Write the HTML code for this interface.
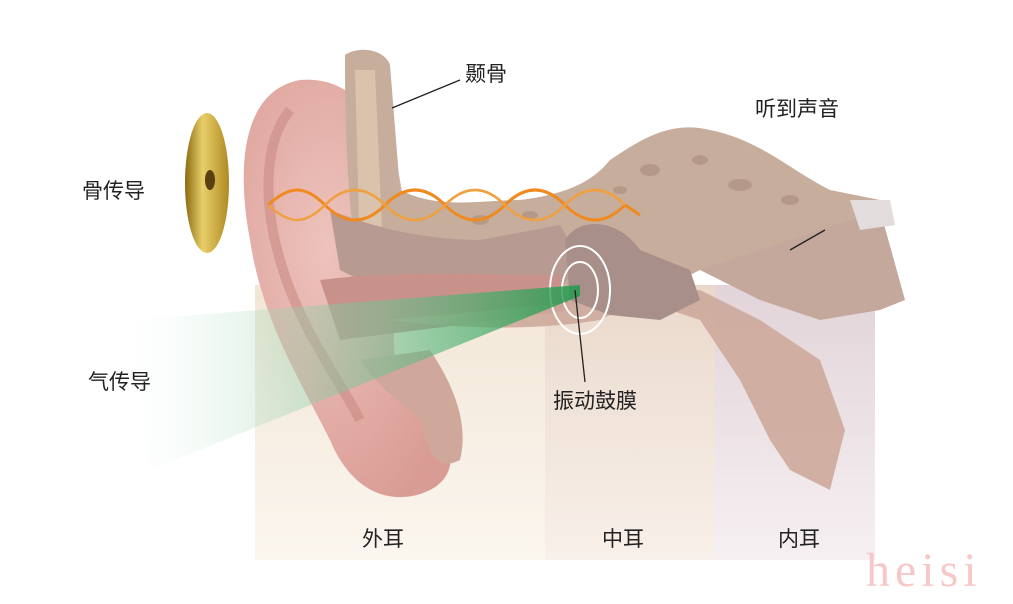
<!DOCTYPE html>
<html><head><meta charset="utf-8">
<style>
html,body{margin:0;padding:0;background:#fff;}
body{width:1013px;height:604px;overflow:hidden;position:relative;font-family:"Liberation Sans","Noto Sans CJK SC",sans-serif;}
.t{position:absolute;font-size:21px;color:#222;white-space:nowrap;}
</style></head><body>
<svg width="1013" height="604" style="position:absolute;left:0;top:0">
<defs>
<linearGradient id="outer" x1="0" y1="0" x2="0" y2="1"><stop offset="0" stop-color="#f2e6d6"/><stop offset="1" stop-color="#fbf6ef"/></linearGradient>
<linearGradient id="mid" x1="0" y1="0" x2="0" y2="1"><stop offset="0" stop-color="#ead9cb"/><stop offset="1" stop-color="#f8f0ea"/></linearGradient>
<linearGradient id="inner" x1="0" y1="0" x2="0" y2="1"><stop offset="0" stop-color="#e2d4d8"/><stop offset="1" stop-color="#f6f0f2"/></linearGradient>
<linearGradient id="green" x1="1" y1="0" x2="0" y2="0"><stop offset="0" stop-color="#1f9a4a"/><stop offset="0.5" stop-color="#7cc79a" stop-opacity="0.6"/><stop offset="1" stop-color="#d8efe0" stop-opacity="0"/></linearGradient>
<linearGradient id="gold" x1="0" y1="0" x2="1" y2="0"><stop offset="0" stop-color="#8a6a10"/><stop offset="0.4" stop-color="#e8cf6a"/><stop offset="1" stop-color="#b08a22"/></linearGradient>
<radialGradient id="ear" cx="0.4" cy="0.4" r="0.7"><stop offset="0" stop-color="#eec3bd"/><stop offset="1" stop-color="#d99c94"/></radialGradient>
</defs>
<rect x="255" y="285" width="290" height="275" fill="url(#outer)"/>
<rect x="545" y="285" width="170" height="275" fill="url(#mid)"/>
<rect x="715" y="285" width="160" height="275" fill="url(#inner)"/>
<path d="M300,80 C245,90 235,160 250,240 C262,320 300,380 330,440 C355,500 400,505 430,490 C460,475 455,440 430,420 C400,395 390,360 395,320 L420,300 L400,180 C390,120 350,75 300,80 Z" fill="url(#ear)"/>
<path d="M290,110 C265,140 262,200 280,260 C300,330 340,380 360,420" stroke="#c98a84" stroke-width="10" fill="none" opacity="0.6"/>
<path d="M345,55 C360,45 385,50 390,65 L400,190 C440,210 480,200 520,200 C560,195 590,185 610,160 C640,140 670,120 710,130 C760,140 790,170 830,190 L880,200 L895,300 C860,310 830,300 790,290 L760,275 L700,270 L660,290 L600,300 L540,310 C480,320 430,320 390,300 L360,280 C350,220 345,160 345,55 Z" fill="#c6ad9c"/>
<path d="M355,70 L375,70 L382,230 L360,260 Z" fill="#d9c3ad"/>
<g fill="#a88a78" opacity="0.55">
<ellipse cx="650" cy="170" rx="10" ry="6"/><ellipse cx="700" cy="160" rx="8" ry="5"/><ellipse cx="740" cy="185" rx="12" ry="6"/><ellipse cx="790" cy="200" rx="9" ry="5"/><ellipse cx="840" cy="260" rx="10" ry="6"/><ellipse cx="870" cy="285" rx="8" ry="5"/><ellipse cx="480" cy="220" rx="9" ry="5"/><ellipse cx="530" cy="215" rx="8" ry="4"/><ellipse cx="620" cy="190" rx="7" ry="4"/>
</g>
<path d="M330,210 C380,230 430,240 480,240 L560,225 L580,260 L560,290 C500,300 430,300 370,285 L340,270 Z" fill="#b79a92"/>
<path d="M320,280 C400,270 480,275 560,275 L570,310 C500,320 420,330 340,340 Z" fill="#c8918a"/>
<path d="M390,320 C470,330 540,330 600,320 L640,300 L700,320 L740,380 L770,440 L790,470 L830,490 L845,430 L820,360 L760,320 L700,290" fill="#cda99a" opacity="0.9"/>
<path d="M360,360 C380,390 400,400 420,420 C430,460 440,470 460,460 C470,420 450,380 430,350 Z" fill="#cfa79b"/>
<path d="M565,240 C580,215 620,220 640,250 L690,270 L700,300 L660,320 L610,315 L570,300 Z" fill="#a88f8a"/>
<ellipse cx="580" cy="290" rx="30" ry="44" fill="none" stroke="#fff" stroke-width="2"/>
<ellipse cx="580" cy="290" rx="18" ry="28" fill="none" stroke="#fff" stroke-width="2"/>
<path d="M700,270 L880,210 L905,300 L880,310 L820,320 L760,300 Z" fill="#c3a89b"/>
<path d="M850,200 L890,200 L895,225 L860,230 Z" fill="#e2dcdc"/>
<path d="M130,320 L580,285 L580,296 L150,470 Z" fill="url(#green)" opacity="0.85"/>
<path d="M268,205 C290,185 305,185 325,205 S365,225 385,205 S425,185 445,205 S485,225 505,205 S545,185 565,205 S605,225 625,205 L640,215" stroke="#f08a1e" stroke-width="3" fill="none"/>
<path d="M268,205 C290,225 305,225 325,205 S365,185 385,205 S425,225 445,205 S485,185 505,205 S545,225 565,205 S605,185 625,205" stroke="#f0a040" stroke-width="2.5" fill="none"/>
<ellipse cx="207" cy="183" rx="22" ry="70" fill="url(#gold)"/>
<ellipse cx="210" cy="180" rx="5" ry="10" fill="#5a4010"/>
<line x1="392" y1="108" x2="460" y2="80" stroke="#222" stroke-width="1.3"/>
<line x1="575" y1="290" x2="585" y2="382" stroke="#222" stroke-width="1.3"/>
<line x1="790" y1="250" x2="825" y2="230" stroke="#222" stroke-width="1.3"/>
</svg>
<div class="t" style="left:465px;top:58px">颞骨</div>
<div class="t" style="left:755px;top:93px">听到声音</div>
<div class="t" style="left:82px;top:175px">骨传导</div>
<div class="t" style="left:88px;top:366px">气传导</div>
<div class="t" style="left:553px;top:385px">振动鼓膜</div>
<div class="t" style="left:362px;top:523px">外耳</div>
<div class="t" style="left:602px;top:523px">中耳</div>
<div class="t" style="left:778px;top:523px">内耳</div>
<div style="position:absolute;left:866px;top:543px;font-family:'Liberation Serif',serif;font-size:48px;color:#f7c8c8;letter-spacing:5px">heisi</div>
</body></html>
